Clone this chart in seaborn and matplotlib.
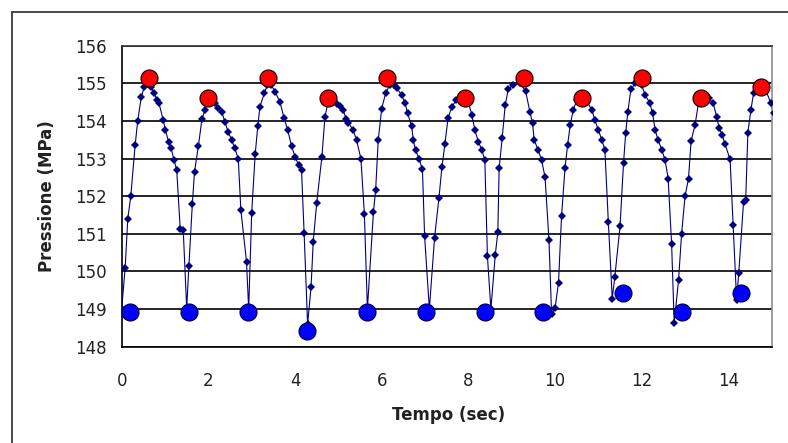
import matplotlib
matplotlib.use("Agg")
import matplotlib.pyplot as plt
import seaborn as sns
import pandas as pd
from matplotlib.patches import Rectangle

# ---- data ----
tempo = [0.00, 0.08, 0.14, 0.21, 0.31, 0.37, 0.45, 0.52, 0.60, 0.68, 0.75, 0.82, 0.86,
         0.96, 1.01, 1.08, 1.14, 1.21, 1.27, 1.35, 1.42, 1.50, 1.55, 1.63, 1.68, 1.77,
         1.85, 1.92, 1.98, 2.08, 2.15, 2.22, 2.31, 2.38, 2.46, 2.54, 2.61, 2.69, 2.75,
         2.88, 2.93, 3.00, 3.08, 3.14, 3.19, 3.29, 3.36, 3.45, 3.54, 3.65, 3.75, 3.83,
         3.92, 4.00, 4.08, 4.15, 4.21, 4.29, 4.37, 4.42, 4.50, 4.62, 4.69, 4.76, 4.88,
         4.97, 5.04, 5.11, 5.18, 5.23, 5.34, 5.42, 5.52, 5.60, 5.67, 5.81, 5.86, 5.92,
         6.00, 6.09, 6.18, 6.28, 6.35, 6.46, 6.54, 6.60, 6.69, 6.73, 6.78, 6.86, 6.94,
         6.99, 7.10, 7.22, 7.32, 7.39, 7.46, 7.53, 7.62, 7.72, 7.85, 8.00, 8.08, 8.15,
         8.23, 8.31, 8.38, 8.44, 8.52, 8.62, 8.68, 8.71, 8.78, 8.85, 8.92, 9.02, 9.18,
         9.32, 9.42, 9.48, 9.52, 9.61, 9.69, 9.77, 9.86, 9.92, 10.00, 10.08, 10.15,
         10.23, 10.29, 10.35, 10.42, 10.50, 10.60, 10.72, 10.85, 10.92, 11.00, 11.08,
         11.15, 11.23, 11.32, 11.38, 11.50, 11.58, 11.63, 11.68, 11.75, 11.85, 12.00,
         12.08, 12.19, 12.25, 12.31, 12.38, 12.46, 12.54, 12.61, 12.69, 12.75, 12.85,
         12.92, 13.00, 13.08, 13.14, 13.23, 13.31, 13.42, 13.55, 13.65, 13.73, 13.79,
         13.86, 13.92, 14.04, 14.11, 14.19, 14.24, 14.35, 14.40, 14.45, 14.52, 14.58,
         14.66, 14.85, 14.98, 15.05]
pressione = [149.00, 150.10, 151.40, 152.00, 153.36, 154.00, 154.63, 154.90, 155.00, 154.90,
             154.73, 154.55, 154.47, 154.02, 153.76, 153.45, 153.27, 152.96, 152.69, 151.14,
             151.10, 149.02, 150.14, 151.79, 152.65, 153.33, 154.04, 154.29, 154.50, 154.55,
             154.47, 154.35, 154.24, 153.98, 153.70, 153.49, 153.27, 153.00, 151.63, 150.26,
             149.00, 151.56, 153.11, 153.86, 154.38, 154.73, 154.95, 154.95, 154.78, 154.51,
             154.07, 153.76, 153.33, 153.05, 152.83, 152.69, 151.01, 148.60, 149.59, 150.79,
             151.82, 153.05, 154.10, 154.50, 154.55, 154.45, 154.40, 154.29, 154.05, 153.95,
             153.76, 153.49, 153.00, 151.54, 149.00, 151.59, 152.16, 153.49, 154.33, 154.73,
             154.95, 154.95, 154.87, 154.69, 154.47, 154.20, 153.86, 153.49, 153.23, 153.00,
             152.71, 150.94, 149.00, 150.90, 151.94, 152.77, 153.40, 154.07, 154.38, 154.55,
             154.62, 154.50, 154.16, 153.76, 153.45, 153.23, 152.96, 150.40, 149.00, 150.43,
             151.05, 152.74, 153.54, 154.42, 154.84, 154.95, 155.00, 154.80, 154.24, 153.94,
             153.49, 153.23, 152.96, 152.50, 150.83, 148.88, 149.02, 149.70, 151.47, 152.74,
             153.36, 153.89, 154.29, 154.55, 154.62, 154.55, 154.29, 154.02, 153.76, 153.49,
             153.24, 151.32, 149.28, 149.86, 151.20, 152.87, 153.67, 154.24, 154.84, 155.00,
             154.95, 154.69, 154.47, 154.20, 153.76, 153.49, 153.24, 152.96, 152.47, 150.74,
             148.62, 149.77, 150.99, 152.00, 152.47, 153.47, 153.89, 154.47, 154.60, 154.60,
             154.47, 154.11, 153.80, 153.62, 153.39, 152.98, 151.23, 149.24, 149.96, 151.85,
             151.90, 153.69, 154.29, 154.73, 154.90, 154.85, 154.48, 154.20]

max_t = [0.64, 2.00, 3.38, 4.75, 6.12, 7.92, 9.28, 10.63, 12.01, 13.37, 14.75]
max_p = [155.13, 154.60, 155.13, 154.60, 155.13, 154.60, 155.13, 154.60, 155.13, 154.60, 154.90]

min_t = [0.19, 1.55, 2.91, 4.28, 5.65, 7.02, 8.38, 9.73, 11.56, 12.92, 14.29]
min_p = [148.91, 148.91, 148.91, 148.41, 148.91, 148.91, 148.91, 148.91, 149.43, 148.91, 149.43]

x_ticks = [0, 2, 4, 6, 8, 10, 12, 14]
y_ticks = [148, 149, 150, 151, 152, 153, 154, 155, 156]

x_label = "Tempo (sec)"
y_label = "Pressione (MPa)"

# ---- figure ----
sns.set_style("white")
plt.rcParams["font.family"] = ["DejaVu Sans"]

W, H = 788, 443
fig = plt.figure(figsize=(W / 100, H / 100), dpi=100)
L, R, T, B = 121.7, 771.7, 45.7, 346.7
ax = fig.add_axes([L / W, 1 - B / H, (R - L) / W, (B - T) / H])

# outer chart-area frame
fig.add_artist(Rectangle((12 / W, -0.2), 1.5, 1.2 - 12 / H + 0.0 - 0.0 + 0.0,
                         transform=fig.transFigure, fill=False,
                         edgecolor="#3a3a3a", linewidth=1.3))

df = pd.DataFrame({"t": tempo, "p": pressione})
sns.lineplot(data=df, x="t", y="p", ax=ax, estimator=None, sort=False,
             color="#000080", linewidth=0.8, marker="D", markersize=4,
             markeredgewidth=0, zorder=3)

sns.scatterplot(x=min_t, y=min_p, ax=ax, s=150, color="#0000FF",
                edgecolor="#000033", linewidth=0.8, zorder=5, clip_on=False)
sns.scatterplot(x=max_t, y=max_p, ax=ax, s=150, color="#FF0000",
                edgecolor="#000000", linewidth=0.8, zorder=5, clip_on=False)

ax.set_xlim(0, 15)
ax.set_ylim(148, 156)
ax.set_xticks(x_ticks)
ax.set_yticks(y_ticks)
ax.grid(axis="y", color="black", linewidth=1.2)
ax.grid(axis="x", visible=False)
ax.set_axisbelow(True)

for side in ["left", "bottom"]:
    ax.spines[side].set_color("black")
    ax.spines[side].set_linewidth(1.2)
ax.spines["right"].set_color("#8c8c8c")
ax.spines["right"].set_linewidth(1.2)
ax.spines["top"].set_color("#333333")
ax.spines["top"].set_linewidth(1.2)

ax.tick_params(axis="x", direction="out", length=4.5, width=1.2, color="black",
               pad=13.5, labelsize=12, labelcolor="#222222")
ax.tick_params(axis="y", direction="out", length=5.5, width=1.2, color="black",
               pad=5.5, labelsize=12, labelcolor="#222222")

ax.set_xlabel(x_label, fontsize=12, fontweight="bold", color="#222222")
ax.set_ylabel(y_label, fontsize=12, fontweight="bold", color="#222222")
ax.xaxis.set_label_coords((448.3 - L) / (R - L), (B - 415) / (B - T))
ax.yaxis.set_label_coords((46.7 - L) / (R - L), 0.5)
ax.xaxis.label.set_va("center")
ax.yaxis.label.set_va("center")
ax.yaxis.label.set_ha("center")

fig.savefig("out.png", dpi=100)
